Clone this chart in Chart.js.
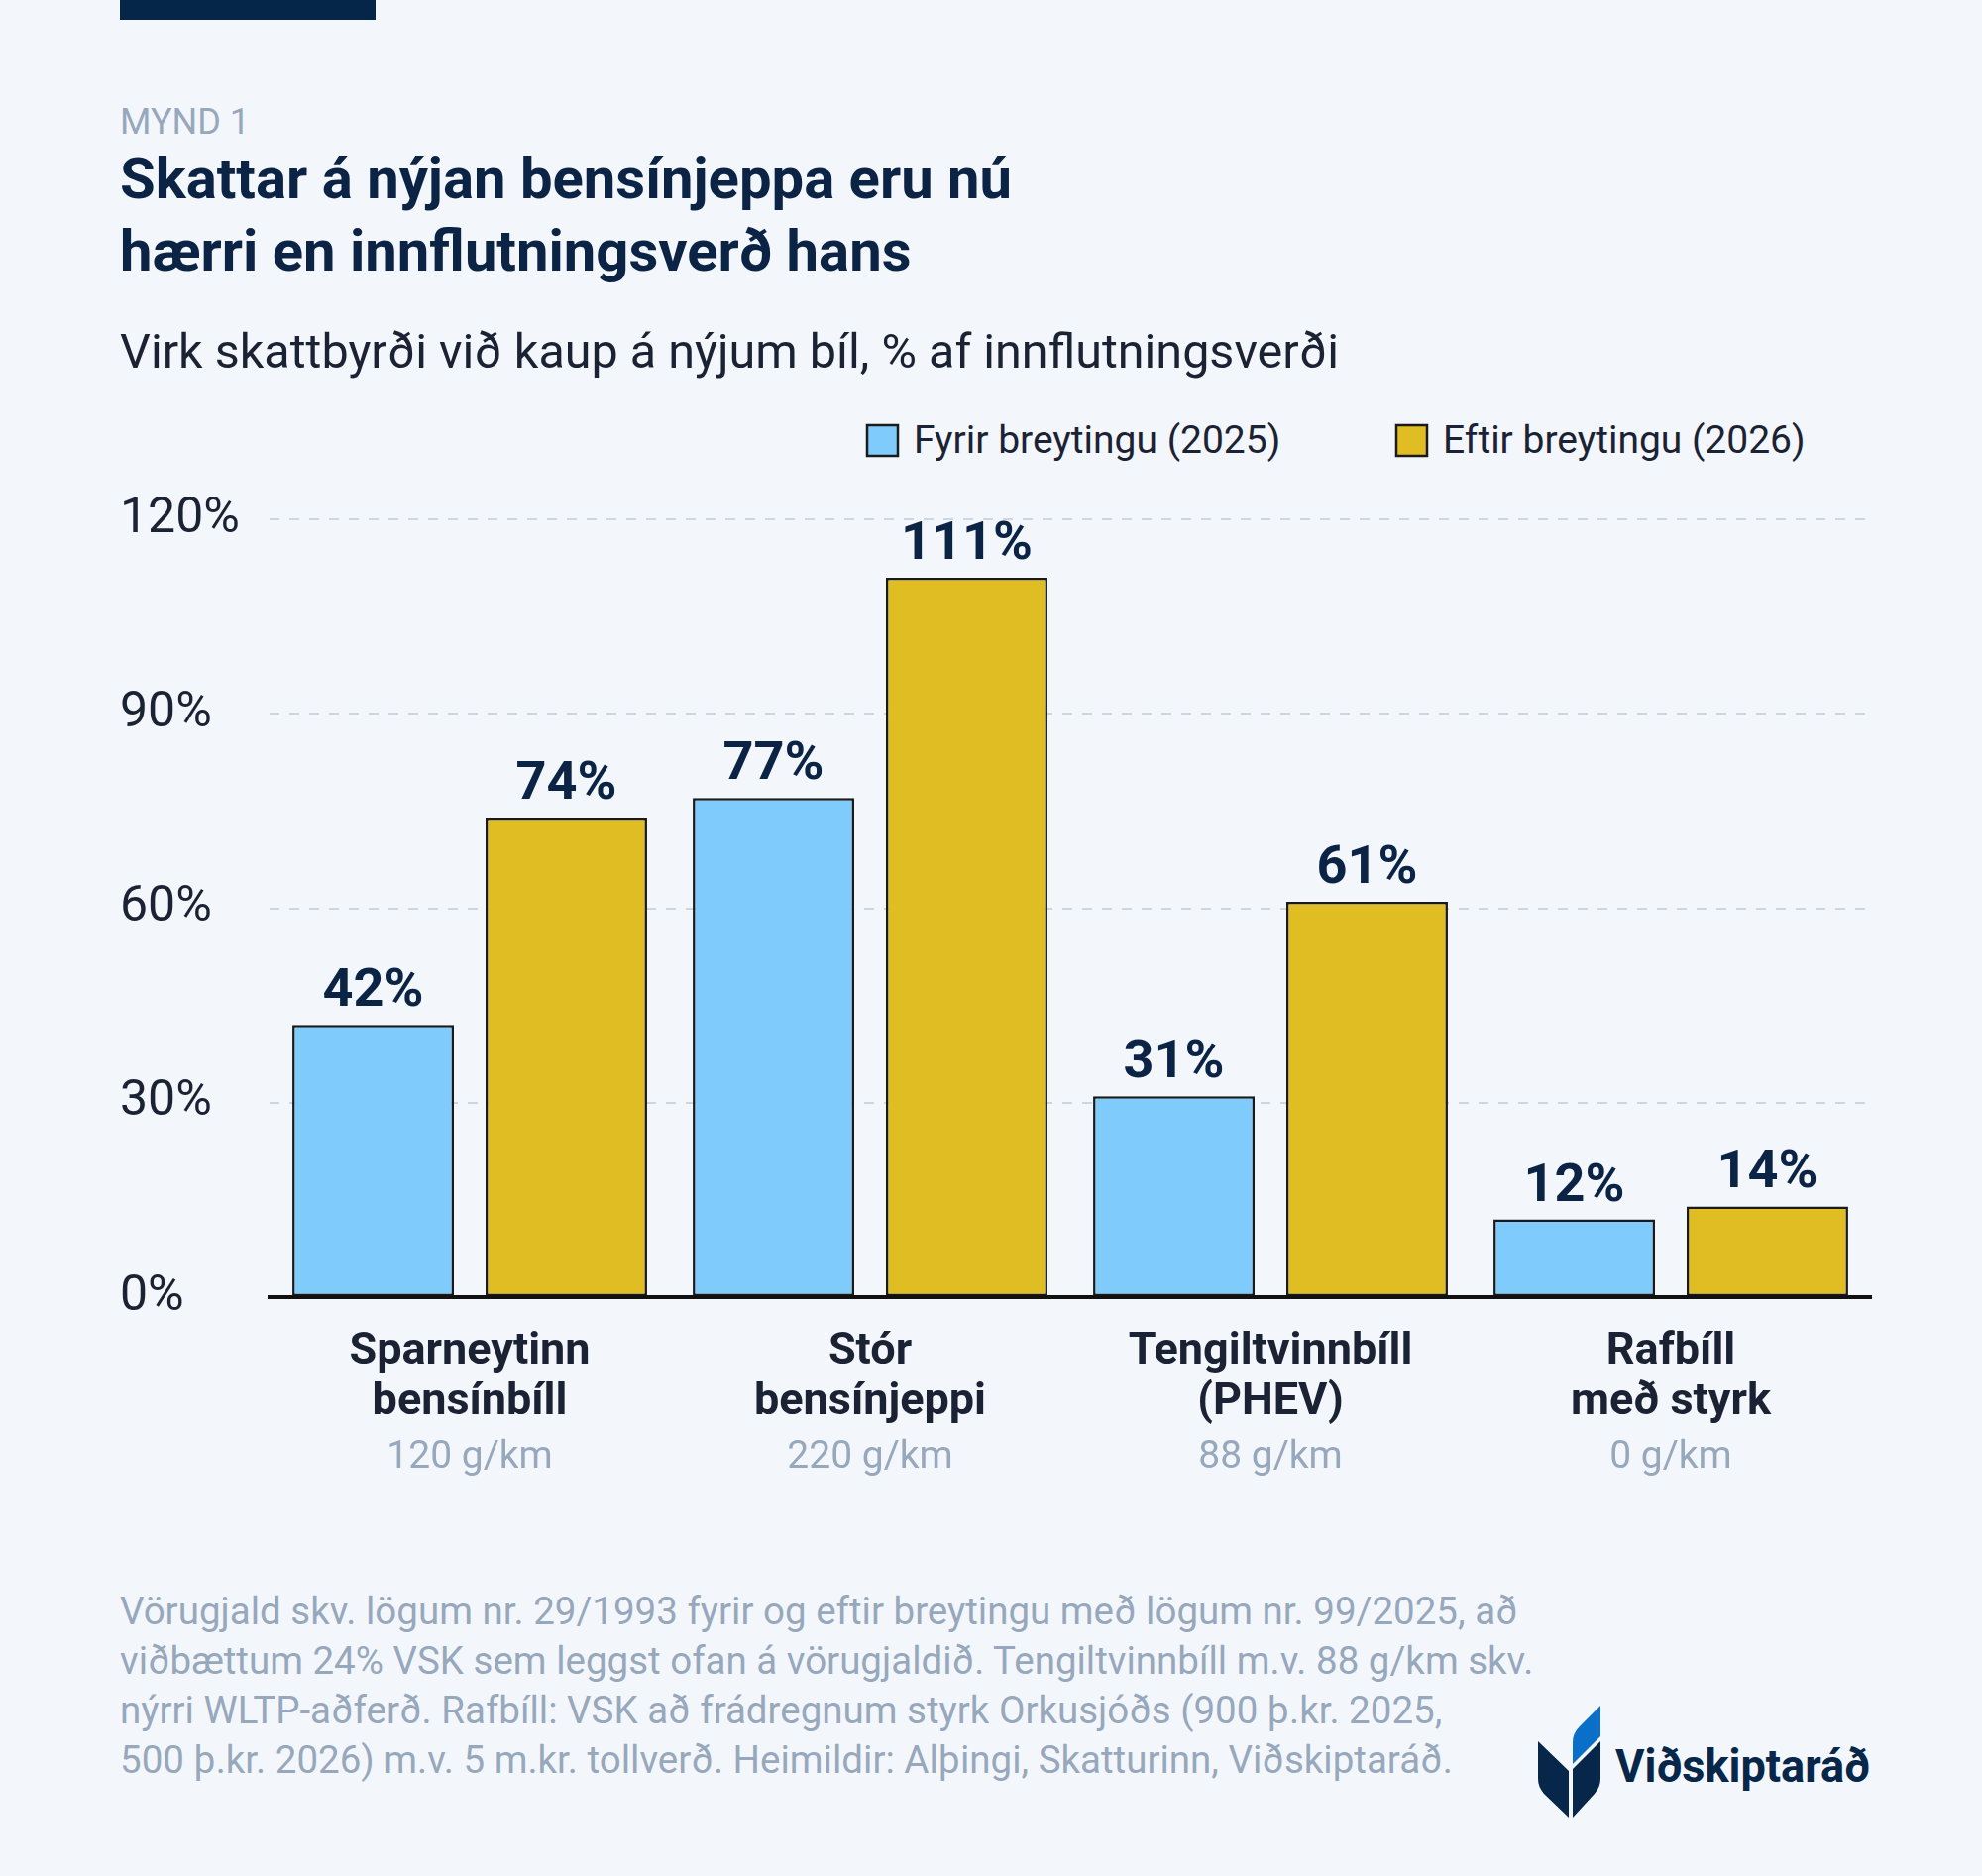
<!DOCTYPE html>
<html lang="is">
<head>
<meta charset="utf-8">
<title>Skattar á nýjan bensínjeppa</title>
<script src="https://cdn.jsdelivr.net/npm/chart.js@4.4.1/dist/chart.umd.min.js"></script>
<style>
  html, body { margin: 0; padding: 0; background: #F3F7FC; }
  #page { position: relative; width: 2000px; height: 1893px; overflow: hidden; background: #F3F7FC; font-family: Roboto, "Noto Sans", sans-serif; }
  #deco { position: absolute; left: 0; top: 0; }
  #chart { position: absolute; left: 0; top: 460px; }
</style>
</head>
<body>
<div id="page">
  <svg id="deco" width="2000" height="1893" xmlns="http://www.w3.org/2000/svg"></svg>
  <canvas id="chart" width="2000" height="1060"></canvas>
</div>
<script>
// data
const categories = [['Sparneytinn', 'bensínbíll'], ['Stór', 'bensínjeppi'], ['Tengiltvinnbíll', '(PHEV)'], ['Rafbíll', 'með styrk']];
const emissions = ['120 g/km', '220 g/km', '88 g/km', '0 g/km'];
const seriesNames = ['Fyrir breytingu (2025)', 'Eftir breytingu (2026)'];
const before2025 = [42, 77, 31, 12];
const after2026 = [74, 111, 61, 14];
const yTicks = [0, 30, 60, 90, 120];

const FONT = 'Roboto, "Noto Sans", sans-serif';
const NAVY = '#0B2344';
const INK = '#1B2233';
const GREY = '#97A8BD';
const BLUE = '#7ECBFC';
const GOLD = '#E0BD22';
const EDGE = '#1A1A1A';

const svg = document.getElementById('deco');
const NS = 'http://www.w3.org/2000/svg';
function add(tag, attrs, text) {
  const el = document.createElementNS(NS, tag);
  for (const k in attrs) el.setAttribute(k, attrs[k]);
  if (text != null) el.textContent = text;
  svg.appendChild(el);
  return el;
}

// header
add('rect', { x: 121, y: 0, width: 258, height: 20, fill: '#052649' });
add('text', { x: 121, y: 135, fill: GREY, 'font-family': FONT, 'font-size': 36 }, 'MYND 1');
add('text', { x: 121, y: 200, fill: NAVY, 'font-family': FONT, 'font-size': 58, 'font-weight': 700 }, 'Skattar á nýjan bensínjeppa eru nú');
add('text', { x: 121, y: 273, fill: NAVY, 'font-family': FONT, 'font-size': 58, 'font-weight': 700 }, 'hærri en innflutningsverð hans');
add('text', { x: 121, y: 371, fill: INK, 'font-family': FONT, 'font-size': 48.5 }, 'Virk skattbyrði við kaup á nýjum bíl, % af innflutningsverði');

// legend
const legendX = [874, 1408];
[BLUE, GOLD].forEach((c, i) => {
  add('rect', { x: legendX[i] + 1, y: 429, width: 31, height: 31, fill: c, stroke: EDGE, 'stroke-width': 2.5 });
  add('text', { x: legendX[i] + 48, y: 457, fill: INK, 'font-family': FONT, 'font-size': 39 }, seriesNames[i]);
});

// footnote
const notes = [
  'Vörugjald skv. lögum nr. 29/1993 fyrir og eftir breytingu með lögum nr. 99/2025, að',
  'viðbættum 24% VSK sem leggst ofan á vörugjaldið. Tengiltvinnbíll m.v. 88 g/km skv.',
  'nýrri WLTP-aðferð. Rafbíll: VSK að frádregnum styrk Orkusjóðs (900 þ.kr. 2025,',
  '500 þ.kr. 2026) m.v. 5 m.kr. tollverð. Heimildir: Alþingi, Skatturinn, Viðskiptaráð.'
];
notes.forEach((t, i) => add('text', { x: 121, y: 1639 + i * 50, fill: GREY, 'font-family': FONT, 'font-size': 38.5 }, t));

// logo
add('path', { d: 'M1552,1757 L1583,1787 L1583,1834 L1558,1810 Q1552,1803 1552,1795 Z', fill: '#06264A' });
add('path', { d: 'M1587,1785 L1615,1757 L1615,1795 Q1615,1803 1609,1810 L1587,1834 Z', fill: '#06264A' });
add('path', { d: 'M1587,1780 L1587,1758 Q1587,1749 1594,1742 L1615,1721 L1615,1752 Z', fill: '#0A6FC9' });
add('text', { x: 1630, y: 1798, fill: '#06264A', 'font-family': FONT, 'font-size': 46, 'font-weight': 700, textLength: 257, lengthAdjust: 'spacingAndGlyphs' }, 'Viðskiptaráð');

// value labels above bars
const valueLabels = {
  id: 'valueLabels',
  afterDatasetsDraw(chart) {
    const ctx = chart.ctx;
    ctx.save();
    ctx.font = '700 54px ' + FONT;
    ctx.fillStyle = NAVY;
    ctx.textAlign = 'center';
    ctx.textBaseline = 'alphabetic';
    chart.data.datasets.forEach((ds, di) => {
      chart.getDatasetMeta(di).data.forEach((bar, i) => {
        ctx.fillText(ds.data[i] + '%', bar.x, bar.y - 19);
      });
    });
    ctx.restore();
  }
};

// category names + emissions under the axis
const categoryLabels = {
  id: 'categoryLabels',
  afterDraw(chart) {
    const ctx = chart.ctx;
    const x = chart.scales.x;
    const base = chart.chartArea.bottom;
    ctx.save();
    ctx.textAlign = 'center';
    ctx.textBaseline = 'alphabetic';
    chart.data.labels.forEach((lab, i) => {
      const cx = x.getPixelForValue(i);
      ctx.font = '700 45px ' + FONT;
      ctx.fillStyle = INK;
      ctx.fillText(lab[0], cx, base + 67);
      ctx.fillText(lab[1], cx, base + 118);
      ctx.font = '400 39px ' + FONT;
      ctx.fillStyle = GREY;
      ctx.fillText(emissions[i], cx, base + 172);
    });
    ctx.restore();
  }
};

new Chart(document.getElementById('chart'), {
  type: 'bar',
  data: {
    labels: categories,
    datasets: [
      { label: seriesNames[0], data: before2025, backgroundColor: BLUE, borderColor: EDGE, borderWidth: 2.5, borderSkipped: false },
      { label: seriesNames[1], data: after2026, backgroundColor: GOLD, borderColor: EDGE, borderWidth: 2.5, borderSkipped: false }
    ]
  },
  options: {
    responsive: false,
    animation: false,
    devicePixelRatio: 1,
    categoryPercentage: 0.965,
    barPercentage: 0.836,
    layout: { padding: { left: 121, right: 112, top: 64, bottom: 211 } },
    plugins: { legend: { display: false }, tooltip: { enabled: false } },
    scales: {
      x: {
        ticks: { display: false },
        grid: { display: false },
        border: { display: true, color: '#111111', width: 4, z: 2 },
        afterFit(s) { s.height = 0; }
      },
      y: {
        min: 0,
        max: 120,
        afterBuildTicks(s) { s.ticks = yTicks.map(v => ({ value: v })); },
        ticks: {
          callback: v => v + '%',
          color: INK,
          font: { family: FONT, size: 50 },
          crossAlign: 'far',
          padding: 0
        },
        grid: {
          drawTicks: false,
          lineWidth: 2,
          color: c => (c.tick && c.tick.value === 0) ? 'rgba(0,0,0,0)' : '#CCD5E0'
        },
        border: { display: false, dash: [10, 10] },
        afterFit(s) { s.width = 151; }
      }
    }
  },
  plugins: [valueLabels, categoryLabels]
});
</script>
</body>
</html>
